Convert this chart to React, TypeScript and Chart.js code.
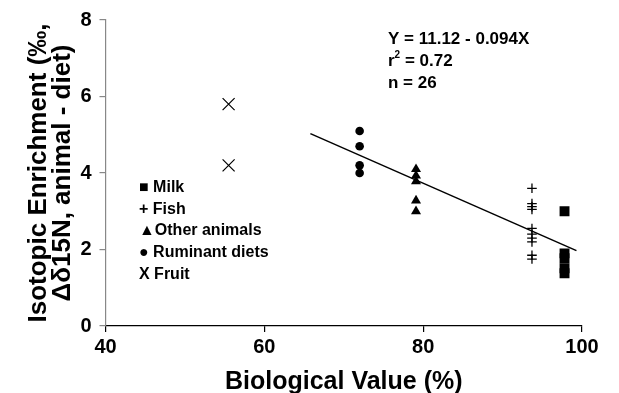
import React, { useEffect, useRef } from "react";
import { Chart, registerables } from "chart.js";

Chart.register(...registerables);

// ---- data ----
const fruitX = [55.5, 55.5];
const fruitY = [5.8, 4.2];
const ruminantX = [72, 72, 72, 72];
const ruminantY = [5.1, 4.7, 4.2, 4.0];
const otherX = [79.1, 79.1, 79.1, 79.1, 79.1];
const otherY = [4.1, 3.93, 3.78, 3.28, 3.0];
const fishX = [93.7, 93.7, 93.7, 93.7, 93.7, 93.7, 93.7, 93.7, 93.7, 93.7];
const fishY = [3.6, 3.2, 3.12, 3.05, 2.55, 2.4, 2.3, 2.2, 1.85, 1.75];
const milkX = [97.8, 97.8, 97.8, 97.8, 97.8];
const milkY = [3.0, 1.9, 1.77, 1.51, 1.38];
const fitX = [65.8, 99.3];
const fitY = [5.03, 1.97];

const xTicks = [40, 60, 80, 100];
const yTicks = [0, 2, 4, 6, 8];

const legendLines = ["■ Milk", "+ Fish", "▲Other animals", "● Ruminant diets", "X Fruit"];
const eqLine1 = "Y = 11.12 - 0.094X";
const eqR2 = "0.72";
const eqN = "n = 26";

const xTitle = "Biological Value (%)";
const yTitle = ["Isotopic Enrichment (‰,", "Δδ15N, animal - diet)"];

const FONT = "'Liberation Sans', Arial, Helvetica, sans-serif";

const pts = (xs: number[], ys: number[]) => xs.map((x, i) => ({ x, y: ys[i] }));

const textPlugin = {
  id: "annotText",
  afterDraw(chart: any) {
    const ctx = chart.ctx;
    ctx.save();
    ctx.fillStyle = "#000";
    ctx.textAlign = "left";
    ctx.textBaseline = "alphabetic";
    // legend
    ctx.font = `bold 16px ${FONT}`;
    legendLines.forEach((t, i) => {
      ctx.fillText(t, 139, 192 + i * 21.7);
    });
    // equation
    ctx.font = `bold 17px ${FONT}`;
    ctx.fillText(eqLine1, 388, 44);
    ctx.fillText("r", 388, 66);
    const rw = ctx.measureText("r").width;
    ctx.font = `bold 10px ${FONT}`;
    ctx.fillText("2", 388 + rw, 58);
    const tw = ctx.measureText("2").width;
    ctx.font = `bold 17px ${FONT}`;
    ctx.fillText(" = " + eqR2, 388 + rw + tw, 66);
    ctx.fillText(eqN, 388, 88);
    ctx.restore();
  },
};

export default function App() {
  const ref = useRef<HTMLCanvasElement>(null);
  useEffect(() => {
    if (!ref.current) return;
    const chart = new Chart(ref.current, {
      type: "scatter",
      data: {
        datasets: [
          {
            label: "fit",
            data: pts(fitX, fitY),
            showLine: true,
            borderColor: "#000",
            borderWidth: 1.5,
            pointRadius: 0,
            fill: false,
          },
          {
            label: "Milk",
            data: pts(milkX, milkY),
            pointStyle: "rect",
            pointRadius: 7,
            backgroundColor: "#000",
            borderColor: "#000",
            borderWidth: 0,
          },
          {
            label: "Fish",
            data: pts(fishX, fishY),
            pointStyle: "cross",
            pointRadius: 4.8,
            borderColor: "#000",
            borderWidth: 1.3,
          },
          {
            label: "Other animals",
            data: pts(otherX, otherY),
            pointStyle: "triangle",
            pointRadius: 5.8,
            backgroundColor: "#000",
            borderColor: "#000",
            borderWidth: 0,
          },
          {
            label: "Ruminant diets",
            data: pts(ruminantX, ruminantY),
            pointStyle: "circle",
            pointRadius: 4.3,
            backgroundColor: "#000",
            borderColor: "#000",
            borderWidth: 0,
          },
          {
            label: "Fruit",
            data: pts(fruitX, fruitY),
            pointStyle: "crossRot",
            pointRadius: 8.5,
            borderColor: "#000",
            borderWidth: 1.2,
          },
        ],
      },
      options: {
        animation: false,
        responsive: false,
        devicePixelRatio: 1,
        layout: { padding: { top: 19, right: 37, left: 0, bottom: 0 } },
        plugins: { legend: { display: false }, tooltip: { enabled: false } },
        scales: {
          x: {
            type: "linear",
            min: 40,
            max: 100,
            afterBuildTicks: (s: any) => {
              s.ticks = xTicks.map((v) => ({ value: v }));
            },
            afterFit: (s: any) => {
              s.height = 67;
            },
            border: { color: "#000", width: 1.2 },
            grid: { drawOnChartArea: false, drawTicks: true, tickLength: 6, color: "#000", lineWidth: 1.2 },
            ticks: {
              color: "#000",
              padding: 3,
              font: { family: FONT, size: 20, weight: "bold" },
              maxRotation: 0,
            },
            title: {
              display: true,
              text: xTitle,
              color: "#000",
              font: { family: FONT, size: 25, weight: "bold", lineHeight: 0.9 },
              padding: { top: 0, bottom: 0 },
            },
          },
          y: {
            type: "linear",
            min: 0,
            max: 8,
            afterBuildTicks: (s: any) => {
              s.ticks = yTicks.map((v) => ({ value: v }));
            },
            afterFit: (s: any) => {
              s.width = 105.5;
            },
            border: { color: "#888", width: 1.2 },
            grid: { drawOnChartArea: false, drawTicks: true, tickLength: 6, color: "#888", lineWidth: 1.2 },
            ticks: {
              color: "#000",
              padding: 8,
              font: { family: FONT, size: 20, weight: "bold" },
            },
            title: {
              display: true,
              text: yTitle,
              color: "#000",
              font: { family: FONT, size: 26, weight: "bold", lineHeight: 0.92 },
              padding: { top: 27, bottom: 0 },
            },
          },
        },
      },
      plugins: [textPlugin],
    } as any);
    return () => chart.destroy();
  }, []);
  return (
    <div style={{ position: "fixed", left: 0, top: 0, width: 619, height: 393, background: "#fff" }}>
      <canvas ref={ref} width={619} height={393} style={{ width: 619, height: 393 }} />
    </div>
  );
}
